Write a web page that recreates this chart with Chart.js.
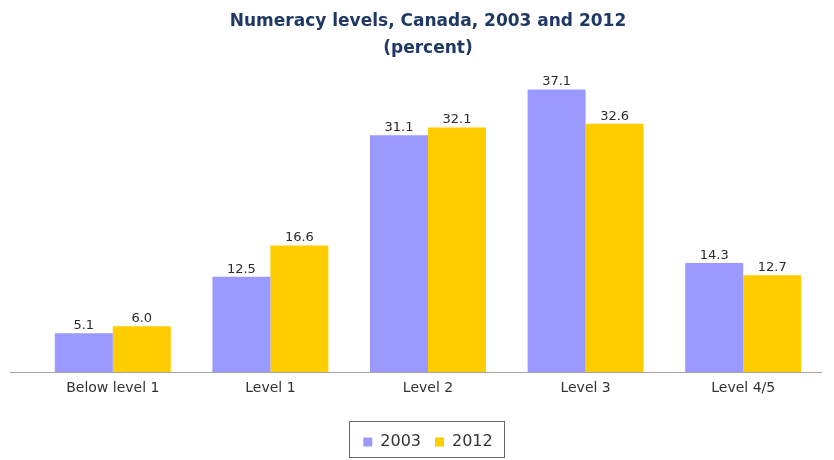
<!DOCTYPE html>
<html>
<head>
<meta charset="utf-8">
<script src="https://cdn.jsdelivr.net/npm/chart.js@4.4.0/dist/chart.umd.min.js"></script>
<style>
  html, body { margin: 0; padding: 0; background: #fff; }
  #wrap { width: 834px; height: 460px; }
</style>
</head>
<body>
<div id="wrap"><canvas id="c" width="834" height="460"></canvas></div>
<script>
// Numeracy proficiency distribution, Canada (percent of adults)
const categories = ['Below level 1', 'Level 1', 'Level 2', 'Level 3', 'Level 4/5'];
const values2003 = [5.1, 12.5, 31.1, 37.1, 14.3];
const values2012 = [6.0, 16.6, 32.1, 32.6, 12.7];
const seriesNames = ['2003', '2012'];
const titleLines = ['Numeracy levels, Canada, 2003 and 2012', '(percent)'];

const FONT = '"DejaVu Sans", Verdana, sans-serif';

// Writes the value above each bar
const valueLabels = {
  id: 'valueLabels',
  afterDatasetsDraw(chart) {
    const ctx = chart.ctx;
    ctx.save();
    ctx.font = '13px ' + FONT;
    ctx.fillStyle = '#2b2b2b';
    ctx.textAlign = 'center';
    ctx.textBaseline = 'bottom';
    chart.data.datasets.forEach((ds, i) => {
      chart.getDatasetMeta(i).data.forEach((bar, j) => {
        ctx.fillText(ds.data[j].toFixed(1), bar.x, bar.y - 1);
      });
    });
    ctx.restore();
  }
};

// Baseline running a little past the plot on the left, plus a frame round the legend
const extras = {
  id: 'extras',
  afterDatasetsDraw(chart) {
    const ctx = chart.ctx;
    const a = chart.chartArea;
    ctx.save();
    ctx.strokeStyle = '#a6a6a6';
    ctx.lineWidth = 1;
    ctx.beginPath();
    ctx.moveTo(10, Math.round(a.bottom) + 0.5);
    ctx.lineTo(a.right, Math.round(a.bottom) + 0.5);
    ctx.stroke();
    const boxes = chart.legend.legendHitBoxes;
    if (boxes.length) {
      const last = boxes[boxes.length - 1];
      const x0 = boxes[0].left - 14, x1 = last.left + last.width + 12;
      const y0 = boxes[0].top - 13, y1 = boxes[0].top + boxes[0].height + 7;
      ctx.strokeStyle = '#666666';
      ctx.strokeRect(Math.round(x0) + 0.5, Math.round(y0) + 0.5, Math.round(x1 - x0), Math.round(y1 - y0));
    }
    ctx.restore();
  }
};

new Chart(document.getElementById('c'), {
  type: 'bar',
  data: {
    labels: categories,
    datasets: [
      { label: seriesNames[0], data: values2003, backgroundColor: '#9999ff' },
      { label: seriesNames[1], data: values2012, backgroundColor: '#ffcc00' }
    ]
  },
  options: {
    responsive: false,
    animation: false,
    devicePixelRatio: 1,
    layout: { padding: { left: 34, right: 12, top: 0, bottom: 0 } },
    datasets: { bar: { categoryPercentage: 0.736, barPercentage: 1.0 } },
    scales: {
      x: {
        grid: { display: false },
        border: { display: false },
        ticks: { color: '#333333', font: { family: FONT, size: 14 }, padding: 0 },
        afterFit(scale) { scale.height = 48; }
      },
      y: { display: false, min: 0, max: 40 }
    },
    plugins: {
      title: {
        display: true,
        text: titleLines,
        color: '#1f3864',
        font: { family: FONT, size: 17, weight: 'bold', lineHeight: 1.6 },
        padding: { top: 8, bottom: 5 }
      },
      legend: {
        position: 'bottom',
        labels: {
          boxWidth: 9, boxHeight: 9, padding: 14,
          color: '#333333',
          font: { family: FONT, size: 16 }
        }
      },
      tooltip: { enabled: false }
    }
  },
  plugins: [valueLabels, extras]
});
</script>
</body>
</html>
